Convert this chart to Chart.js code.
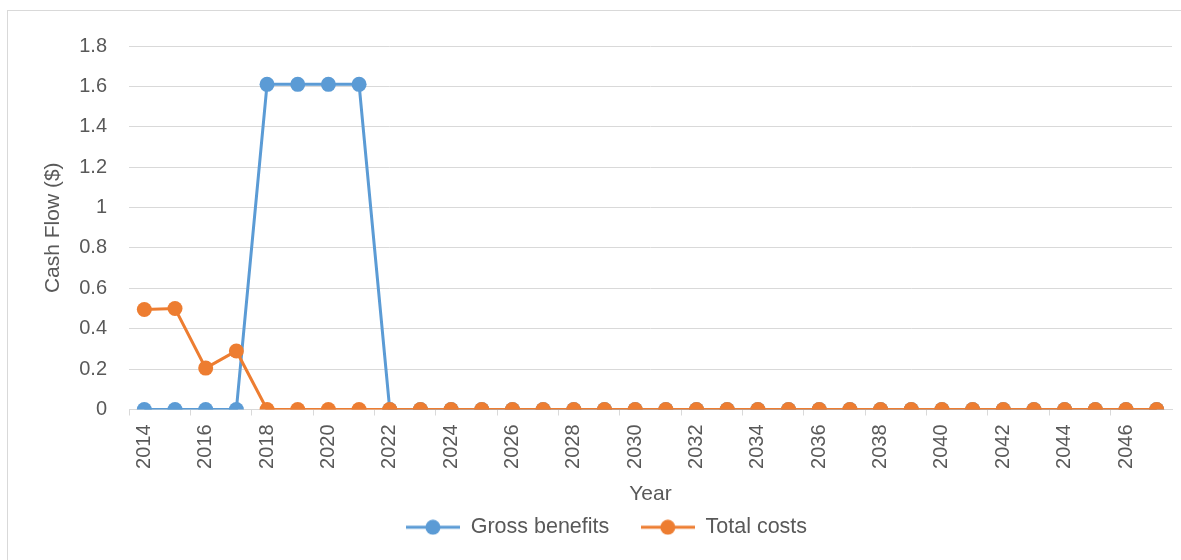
<!DOCTYPE html>
<html>
<head>
<meta charset="utf-8">
<script src="https://cdn.jsdelivr.net/npm/chart.js@4.4.0/dist/chart.umd.min.js"></script>
<style>
    html, body { margin: 0; padding: 0; background: #ffffff; overflow: hidden; }
    #wrap { position: relative; width: 1181px; height: 560px; }
    #frame { position: absolute; left: 7px; top: 10px; width: 1200px; height: 600px; border: 1px solid #d9d9d9; box-sizing: border-box; }
    #cashChart { position: absolute; left: 0; top: 0; }
</style>
</head>
<body>
<div id="wrap">
    <div id="frame"></div>
    <canvas id="cashChart" width="1181" height="560"></canvas>
</div>
<script>
var years = ['2014', '2015', '2016', '2017', '2018', '2019', '2020', '2021', '2022', '2023',
    '2024', '2025', '2026', '2027', '2028', '2029', '2030', '2031', '2032', '2033',
    '2034', '2035', '2036', '2037', '2038', '2039', '2040', '2041', '2042', '2043',
    '2044', '2045', '2046', '2047'];

var grossBenefits = [0, 0, 0, 0, 1.61, 1.61, 1.61, 1.61, 0, 0,
    0, 0, 0, 0, 0, 0, 0, 0, 0, 0,
    0, 0, 0, 0, 0, 0, 0, 0, 0, 0,
    0, 0, 0, 0];

var totalCosts = [0.495, 0.5, 0.205, 0.29, 0, 0, 0, 0, 0, 0,
    0, 0, 0, 0, 0, 0, 0, 0, 0, 0,
    0, 0, 0, 0, 0, 0, 0, 0, 0, 0,
    0, 0, 0, 0];

var yMax = 1.8;
var yStep = 0.2;

var BLUE = '#5B9BD5';
var ORANGE = '#ED7D31';
var GRID = '#d9d9d9';
var TEXT = '#595959';
var FONT = "'Liberation Sans', Arial, sans-serif";

// legend marker: short line with a dot in the middle, like Excel
function makeMarker(color) {
    var c = document.createElement('canvas');
    c.width = 54;
    c.height = 16;
    var g = c.getContext('2d');
    g.strokeStyle = color;
    g.lineWidth = 3;
    g.beginPath();
    g.moveTo(0, 8);
    g.lineTo(54, 8);
    g.stroke();
    g.fillStyle = color;
    g.beginPath();
    g.arc(27, 8, 7.5, 0, Math.PI * 2);
    g.fill();
    return c;
}

var markers = [makeMarker(BLUE), makeMarker(ORANGE)];

var ctx = document.getElementById('cashChart').getContext('2d');

var cashChart = new Chart(ctx, {
    type: 'line',
    data: {
        labels: years,
        datasets: [{
            label: 'Gross benefits',
            data: grossBenefits,
            borderColor: BLUE,
            backgroundColor: BLUE,
            borderWidth: 3,
            pointRadius: 7.5,
            pointHoverRadius: 7.5,
            pointBorderWidth: 0,
            tension: 0,
            order: 1
        }, {
            label: 'Total costs',
            data: totalCosts,
            borderColor: ORANGE,
            backgroundColor: ORANGE,
            borderWidth: 3,
            pointRadius: 7.5,
            pointHoverRadius: 7.5,
            pointBorderWidth: 0,
            tension: 0,
            order: 0
        }]
    },
    options: {
        responsive: false,
        animation: false,
        layout: {
            padding: { left: 41, top: 46, right: 9, bottom: 12 }
        },
        scales: {
            x: {
                offset: true,
                grid: {
                    offset: true,
                    drawOnChartArea: false,
                    tickLength: 6,
                    color: function(c) {
                        return c.index % 2 === 0 ? GRID : 'rgba(0,0,0,0)';
                    }
                },
                border: { color: GRID, width: 1 },
                ticks: {
                    autoSkip: false,
                    minRotation: 90,
                    maxRotation: 90,
                    padding: 9,
                    color: TEXT,
                    font: { family: FONT, size: 20 },
                    callback: function(value, index) {
                        return index % 2 === 0 ? this.getLabelForValue(value) : '';
                    }
                },
                title: {
                    display: true,
                    text: 'Year',
                    color: TEXT,
                    font: { family: FONT, size: 21 },
                    padding: { top: 0, bottom: 0 }
                },
                afterFit: function(scale) {
                    scale.height = 97;
                    scale.paddingRight = 0;
                }
            },
            y: {
                min: 0,
                max: yMax,
                grid: { color: GRID, lineWidth: 1, drawTicks: false },
                border: { display: false },
                ticks: {
                    stepSize: yStep,
                    padding: 22,
                    color: TEXT,
                    font: { family: FONT, size: 20 },
                    callback: function(value) {
                        return String(+value.toFixed(1));
                    }
                },
                title: {
                    display: true,
                    text: 'Cash Flow ($)',
                    color: TEXT,
                    font: { family: FONT, size: 21 },
                    padding: { top: 0, bottom: 0 }
                },
                afterFit: function(scale) {
                    scale.width = 88;
                }
            }
        },
        plugins: {
            legend: {
                position: 'bottom',
                labels: {
                    usePointStyle: true,
                    pointStyleWidth: 54,
                    boxHeight: 16,
                    padding: 10,
                    color: TEXT,
                    font: { family: FONT, size: 21.5 },
                    sort: function(a, b) {
                        return a.datasetIndex - b.datasetIndex;
                    },
                    generateLabels: function(chart) {
                        var items = Chart.defaults.plugins.legend.labels.generateLabels(chart);
                        for (var i = 0; i < items.length; i++) {
                            items[i].pointStyle = markers[items[i].datasetIndex];
                            // wider gap after the first entry
                            if (items[i].datasetIndex === 0) {
                                items[i].text = items[i].text + '\u2002\u2002';
                            }
                        }
                        return items;
                    }
                }
            },
            tooltip: { enabled: false }
        }
    }
});
</script>
</body>
</html>
